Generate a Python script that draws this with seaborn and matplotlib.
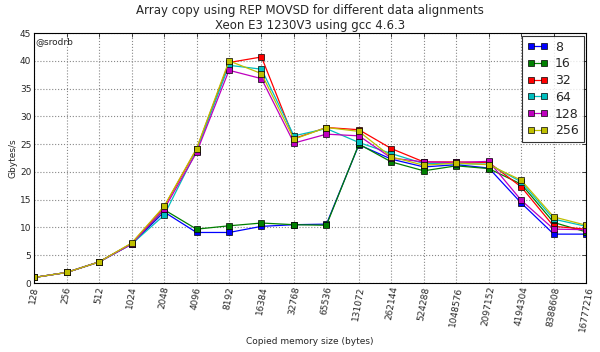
import pandas as pd
import matplotlib
matplotlib.use('Agg')
import matplotlib.pyplot as plt
import seaborn as sns

sizes = [128, 256, 512, 1024, 2048, 4096, 8192, 16384, 32768, 65536, 131072,
         262144, 524288, 1048576, 2097152, 4194304, 8388608, 16777216]
alignments = ['8', '16', '32', '64', '128', '256']

bw_8 = [1.0, 1.9, 3.8, 7.0, 12.8, 9.1, 9.1, 10.2, 10.5, 10.6, 24.9, 22.3, 20.9, 21.3, 20.7, 14.4, 8.8, 8.8]
bw_16 = [1.0, 1.9, 3.8, 7.1, 13.2, 9.7, 10.3, 10.8, 10.5, 10.4, 25.0, 21.8, 20.2, 21.1, 20.6, 17.8, 10.9, 9.2]
bw_32 = [1.0, 1.9, 3.8, 7.1, 13.7, 24.1, 39.7, 40.7, 26.0, 28.0, 27.6, 24.2, 21.8, 21.8, 21.7, 17.3, 10.2, 9.7]
bw_64 = [1.0, 1.9, 3.8, 7.0, 12.2, 23.8, 39.2, 38.5, 26.5, 27.8, 25.3, 23.3, 21.5, 21.5, 21.4, 18.2, 11.5, 10.2]
bw_128 = [1.0, 1.9, 3.8, 7.0, 13.3, 23.5, 38.3, 36.8, 25.2, 26.8, 26.5, 22.5, 21.8, 21.7, 21.9, 14.9, 9.7, 9.6]
bw_256 = [1.0, 1.9, 3.8, 7.2, 13.8, 24.2, 40.0, 37.7, 25.9, 28.0, 27.3, 22.7, 21.2, 21.6, 21.3, 18.5, 11.9, 10.4]

series = [bw_8, bw_16, bw_32, bw_64, bw_128, bw_256]
rows = []
for al, vals in zip(alignments, series):
    for s, v in zip(sizes, vals):
        rows.append({'size': s, 'gbps': v, 'align': al})
df = pd.DataFrame(rows)

sns.set_style('white')
plt.rcParams['font.family'] = ['DejaVu Sans']

fig, ax = plt.subplots(figsize=(6, 3.52), dpi=100)
fig.subplots_adjust(left=0.057, right=0.977, top=0.906, bottom=0.196)

palette = ['#0000ff', '#008000', '#ff0000', '#00bfbf', '#bf00bf', '#bfbf00']
sns.lineplot(data=df, x='size', y='gbps', hue='align', hue_order=alignments,
             palette=palette, marker='s', markersize=5, markeredgecolor='black',
             markeredgewidth=0.5, linewidth=0.9, ax=ax)

ax.set_xscale('log', base=2)
ax.set_xlim(128, 16777216)
ax.set_ylim(0, 45)
ax.set_xticks(sizes)
ax.set_xticklabels([str(s) for s in sizes], rotation=80, fontsize=6.5)
ax.minorticks_off()
ax.tick_params(axis='y', labelsize=6.5, pad=2)
ax.tick_params(axis='x', pad=2)
ax.tick_params(direction='in', top=True, right=True, length=3, width=0.6)
ax.grid(True, linestyle=':', color='#888888', linewidth=0.8)
for sp in ax.spines.values():
    sp.set_color('black')
    sp.set_linewidth(0.8)

ax.set_title('Array copy using REP MOVSD for different data alignments\nXeon E3 1230V3 using gcc 4.6.3',
             fontsize=8.5, pad=3)
ax.set_xlabel('Copied memory size (bytes)', fontsize=6.5, labelpad=3)
ax.set_ylabel('Gbytes/s', fontsize=6.5, labelpad=2)
ax.text(0.003, 0.985, '@srodrb', transform=ax.transAxes, fontsize=6.5, va='top', ha='left')

handles, labels = ax.get_legend_handles_labels()
leg = ax.legend(handles, labels, loc='upper right', numpoints=2, fontsize=9,
                frameon=True, fancybox=False, edgecolor='black', borderaxespad=0.2,
                handlelength=1.6, handletextpad=0.6, labelspacing=0.3, borderpad=0.4)
leg.get_frame().set_linewidth(0.8)

fig.savefig('out.png', dpi=100)
